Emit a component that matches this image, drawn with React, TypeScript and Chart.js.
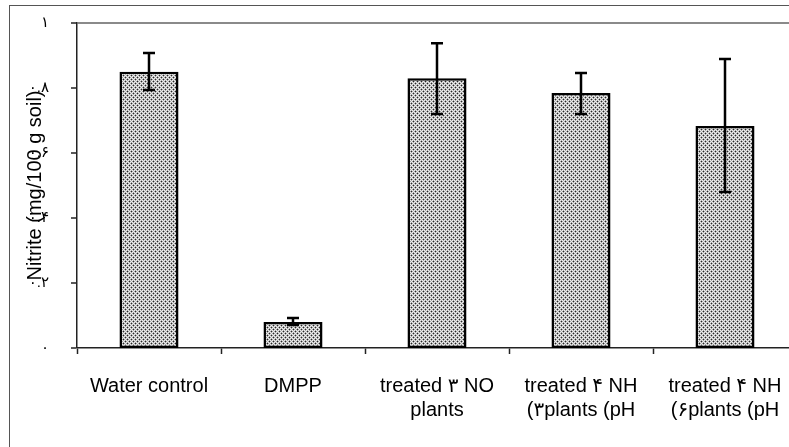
import React, { useEffect, useRef } from "react";
import { Chart, registerables } from "chart.js";

Chart.register(...registerables);

const categories: (string | string[])[] = [
  "Water control",
  "DMPP",
  ["treated ۳ NO", "plants"],
  ["treated ۴ NH", "(۳plants (pH"],
  ["treated ۴ NH", "(۶plants (pH"],
];
const meanValues = [0.85, 0.08, 0.83, 0.785, 0.683];
const errorHigh = [0.908, 0.092, 0.938, 0.846, 0.889];
const errorLow = [0.794, 0.071, 0.72, 0.72, 0.48];
const yTickValues = [0, 0.2, 0.4, 0.6, 0.8, 1];
const yTickLabels = ["۰", "۰.۲", "۰.۴", "۰.۶", "۰.۸", "۱"];
const yTitle = "Nitrite (mg/100 g soil)";

const FONT = '"Liberation Sans", Arial, "DejaVu Sans", sans-serif';

function makePattern(ctx: CanvasRenderingContext2D): CanvasPattern | string {
  const c = document.createElement("canvas");
  c.width = 4;
  c.height = 4;
  const p = c.getContext("2d");
  if (!p) return "#ccc";
  p.fillStyle = "#ececec";
  p.fillRect(0, 0, 4, 4);
  p.fillStyle = "#a8a8a8";
  for (const [x, y] of [[0, 1], [2, 1], [1, 0], [1, 2], [2, 3], [3, 2], [0, 3], [3, 0]]) p.fillRect(x, y, 1, 1);
  p.fillStyle = "#262626";
  p.fillRect(1, 1, 1, 1);
  p.fillRect(3, 3, 1, 1);
  return ctx.createPattern(c, "repeat") || "#ccc";
}

const framePlugin = {
  id: "frame",
  beforeDraw(chart: any) {
    const ctx = chart.ctx;
    ctx.save();
    ctx.fillStyle = "#fff";
    ctx.fillRect(0, 0, chart.width, chart.height);
    ctx.strokeStyle = "#555";
    ctx.lineWidth = 1;
    ctx.strokeRect(9.5, 5.5, chart.width + 50, chart.height + 50);
    ctx.restore();
  },
};

const errorBarPlugin = {
  id: "errorBars",
  afterDatasetsDraw(chart: any) {
    const ctx = chart.ctx;
    const meta = chart.getDatasetMeta(0);
    const yScale = chart.scales.y;
    ctx.save();
    ctx.strokeStyle = "#000";
    ctx.lineWidth = 2.5;
    meta.data.forEach((bar: any, i: number) => {
      const x = bar.x;
      const yH = yScale.getPixelForValue(errorHigh[i]);
      const yL = yScale.getPixelForValue(errorLow[i]);
      const cap = 6;
      ctx.beginPath();
      ctx.moveTo(x, yH);
      ctx.lineTo(x, yL);
      ctx.moveTo(x - cap, yH);
      ctx.lineTo(x + cap, yH);
      ctx.moveTo(x - cap, yL);
      ctx.lineTo(x + cap, yL);
      ctx.stroke();
    });
    ctx.restore();
  },
};

export default function App() {
  const ref = useRef<HTMLCanvasElement | null>(null);

  useEffect(() => {
    const canvas = ref.current;
    if (!canvas) return;
    const ctx = canvas.getContext("2d")!;
    const pattern = makePattern(ctx);
    const chart = new Chart(canvas, {
      type: "bar",
      data: {
        labels: categories,
        datasets: [
          {
            data: meanValues,
            backgroundColor: pattern as any,
            borderColor: "#000",
            borderWidth: 2.5,
            borderSkipped: false,
            barPercentage: 0.41,
            categoryPercentage: 1,
          },
        ],
      },
      options: {
        animation: false,
        responsive: true,
        maintainAspectRatio: false,
        layout: { padding: { left: 0, top: 23, right: 13, bottom: 0 } },
        plugins: {
          legend: { display: false },
          tooltip: { enabled: false },
        },
        scales: {
          x: {
            type: "category",
            offset: true,
            afterFit: (s: any) => {
              s.height = 99;
              s.paddingLeft = 0;
              s.paddingRight = 0;
            },
            grid: {
              offset: true,
              drawOnChartArea: false,
              drawTicks: true,
              tickLength: 6,
              tickColor: "#222",
              tickWidth: 1.5,
            },
            border: { display: true, color: "#222", width: 1.5 },
            ticks: {
              color: "#000",
              font: { family: FONT, size: 20, lineHeight: 1.2 },
              padding: 20,
              maxRotation: 0,
              autoSkip: false,
            },
          },
          y: {
            min: 0,
            max: 1,
            afterFit: (s: any) => {
              s.width = 77;
              s.paddingTop = 0;
              s.paddingBottom = 0;
            },
            afterBuildTicks: (s: any) => {
              s.ticks = yTickValues.map((v) => ({ value: v }));
            },
            grid: {
              drawOnChartArea: true,
              color: (c: any) => (c.tick && Math.abs(c.tick.value - 1) < 1e-6 ? "#8a8a8a" : "rgba(0,0,0,0)"),
              lineWidth: (c: any) => (c.tick && Math.abs(c.tick.value - 1) < 1e-6 ? 2 : 0),
              drawTicks: true,
              tickLength: 6,
              tickColor: "#222",
              tickWidth: 1.5,
            },
            border: { display: true, color: "#222", width: 1.5 },
            ticks: {
              color: "#000",
              font: { family: FONT, size: 15 },
              padding: 22,
              autoSkip: false,
              callback: (v: any) => {
                const i = yTickValues.findIndex((t) => Math.abs(t - Number(v)) < 1e-6);
                return i >= 0 ? yTickLabels[i] : "";
              },
            },
            title: {
              display: true,
              text: yTitle,
              color: "#000",
              font: { family: FONT, size: 20, lineHeight: 1.2 },
              padding: { top: 23, bottom: 0 },
            },
          },
        },
      },
      plugins: [framePlugin, errorBarPlugin],
    });
    return () => chart.destroy();
  }, []);

  return (
    <div style={{ position: "fixed", left: 0, top: 0, width: 789, height: 447, overflow: "hidden", background: "#fff" }}>
      <div style={{ position: "relative", width: 810, height: 447 }}>
        <canvas ref={ref} />
      </div>
    </div>
  );
}
